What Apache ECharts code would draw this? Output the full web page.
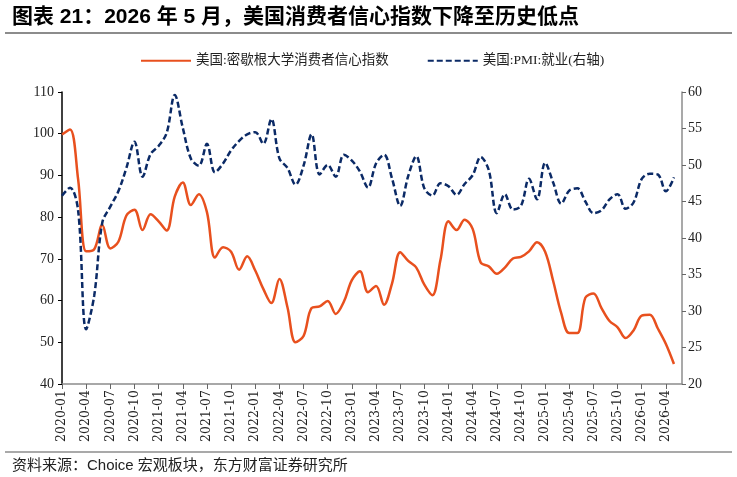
<!DOCTYPE html>
<html><head><meta charset="utf-8">
<script src="https://cdn.jsdelivr.net/npm/echarts@6/dist/echarts.min.js"></script>
<style>html,body{margin:0;padding:0;background:#fff}#c{width:737px;height:477px}</style>
</head><body><div id="c"></div>
<script>
// Monthly categories 2020-01 ... 2026-06 (last slot empty, axis runs past last data point)
const months = [];
for (let y = 2020; y <= 2026; y++) {
  for (let m = 1; m <= 12; m++) {
    if (y === 2026 && m > 6) break;
    months.push(y + '-' + (m < 10 ? '0' + m : m));
  }
}
const michigan = [
  99.8, 101.0, 89.1, 71.8, 72.3, 78.1, 72.5, 74.1, 80.4, 81.8, 76.9, 80.7,
  79.0, 76.8, 84.9, 88.3, 82.9, 85.5, 81.2, 70.3, 72.8, 71.7, 67.4, 70.6,
  67.2, 62.8, 59.4, 65.2, 58.4, 50.0, 51.5, 58.2, 58.6, 59.9, 56.8, 59.7,
  64.9, 67.0, 62.0, 63.5, 59.0, 64.2, 71.6, 69.5, 67.9, 63.8, 61.3, 69.7,
  79.0, 76.9, 79.4, 77.2, 69.1, 68.2, 66.4, 67.9, 70.1, 70.5, 71.8, 74.0,
  71.7, 64.7, 57.0, 52.2, 52.2, 60.7, 61.7, 58.2, 55.1, 53.6, 51.0, 52.9,
  56.4, 56.6, 53.3, 49.6, 44.8
];
const pmiEmployment = [
  45.8, 46.9, 43.8, 27.5, 32.1, 42.1, 44.3, 46.4, 49.6, 53.2, 48.4, 51.5,
  52.6, 54.4, 59.6, 55.1, 50.9, 49.9, 52.9, 49.0, 50.2, 52.0, 53.3, 54.2,
  54.5, 52.9, 56.3, 50.9, 49.6, 47.3, 49.9, 54.2, 48.7, 50.0, 48.4, 51.4,
  50.6, 49.1, 46.9, 50.2, 51.4, 48.1, 44.4, 48.5, 51.2, 46.8, 45.8, 47.5,
  47.1, 45.9, 47.4, 48.6, 51.1, 49.3, 43.4, 46.0, 43.9, 44.4, 48.1, 45.3,
  50.3, 47.6, 44.7, 46.5, 46.8, 45.0, 43.4, 43.8, 45.3, 46.0, 44.0, 44.9,
  48.1, 48.8, 48.7, 46.4, 48.3
];
const leftAxis = {min: 40, max: 110, interval: 10};
const rightAxis = {min: 20, max: 60, interval: 5};
const seriesNames = ['美国:密歇根大学消费者信心指数', '美国:PMI:就业(右轴)'];
const titleText = '图表 21：2026 年 5 月，美国消费者信心指数下降至历史低点';
const sourceText = '资料来源：Choice 宏观板块，东方财富证券研究所';

const serif = '"Liberation Serif", "Times New Roman", "Noto Sans CJK SC", serif';
const chart = echarts.init(document.getElementById('c'), null, {renderer: 'canvas'});
chart.setOption({
  animation: false,
  backgroundColor: '#fff',
  grid: {left: 62, right: 55, top: 92, bottom: 93, containLabel: false},
  legend: {
    left: 135, top: 49, itemWidth: 50, itemHeight: 10, itemGap: 38,
    itemStyle: {opacity: 0},
    textStyle: {fontFamily: serif, fontSize: 13.5, color: '#222'},
    data: seriesNames
  },
  xAxis: {
    type: 'category', boundaryGap: false, data: months,
    axisLine: {lineStyle: {color: '#8c8c8c', width: 1.5}},
    axisTick: {interval: 2, length: 5, lineStyle: {color: '#666'}},
    axisLabel: {interval: 2, rotate: 90, margin: 6, fontFamily: '"DejaVu Serif", serif', fontSize: 12.5, color: '#222'},
    splitLine: {show: false}
  },
  yAxis: [{
    type: 'value', min: leftAxis.min, max: leftAxis.max, interval: leftAxis.interval,
    axisLine: {show: true, lineStyle: {color: '#000', width: 1.5}},
    axisTick: {show: true, length: 4, lineStyle: {color: '#000'}},
    axisLabel: {margin: 8, fontFamily: serif, fontSize: 14, color: '#222'},
    splitLine: {show: false}
  }, {
    type: 'value', min: rightAxis.min, max: rightAxis.max, interval: rightAxis.interval,
    position: 'right',
    axisLine: {show: true, lineStyle: {color: '#8c8c8c', width: 1.5}},
    axisTick: {show: true, length: 4, lineStyle: {color: '#666'}},
    axisLabel: {margin: 6, fontFamily: serif, fontSize: 14, color: '#222'},
    splitLine: {show: false}
  }],
  series: [{
    name: seriesNames[0], type: 'line', yAxisIndex: 0, data: michigan,
    symbol: 'none', smooth: 0.35,
    lineStyle: {color: '#E8501E', width: 2.5},
    itemStyle: {color: '#E8501E'}
  }, {
    name: seriesNames[1], type: 'line', yAxisIndex: 1, data: pmiEmployment,
    symbol: 'none', smooth: 0.35,
    lineStyle: {color: '#0B2A66', width: 2.5, type: [6, 3]},
    itemStyle: {color: '#0B2A66'}
  }],
  graphic: [
    {type: 'text', left: 12, top: 7, style: {text: titleText, font: 'bold 21px "Liberation Sans", "Noto Sans CJK SC", sans-serif', fill: '#000'}},
    {type: 'line', shape: {x1: 5, y1: 33, x2: 732, y2: 33}, style: {stroke: '#8c8c8c', lineWidth: 2}},
    {type: 'line', shape: {x1: 5, y1: 452, x2: 732, y2: 452}, style: {stroke: '#8c8c8c', lineWidth: 1.5}},
    {type: 'text', left: 12, top: 458, style: {text: sourceText, font: '15px "Liberation Sans Narrow", "Liberation Sans", "Noto Sans CJK SC", sans-serif', fill: '#222'}}
  ]
});
</script></body></html>
